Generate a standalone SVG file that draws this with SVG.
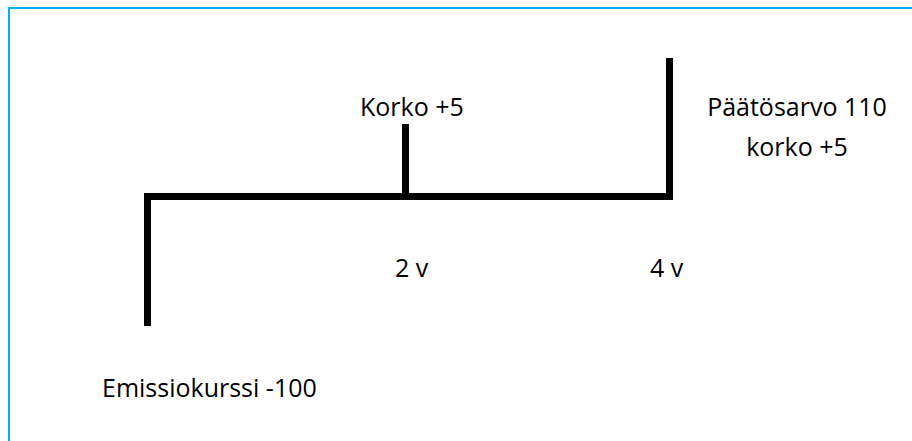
<svg xmlns="http://www.w3.org/2000/svg" width="912" height="441" viewBox="0 0 912 441">
<style>
.frame{stroke:#00B0F0;stroke-width:2;fill:none}
.ln{stroke:#000;stroke-width:7;fill:none;stroke-linecap:butt;stroke-linejoin:miter}
.t{font-family:"Open Sans","Liberation Sans",sans-serif;font-size:25px;fill:#000}
</style>
<rect width="912" height="441" fill="#fff"/>
<path class="frame" d="M9,441 V8 H912"/>
<g id="connectors">
<path class="ln" d="M147.5,326 V196.5 H669.5 V58"/>
<path class="ln" d="M405.5,124 V196"/>
</g>
<g id="korko2"><text class="t" x="360" y="116">Korko +5</text></g>
<g id="paatos"><text class="t" x="797" y="116" text-anchor="middle">Päätösarvo 110</text><text class="t" x="797" y="156" text-anchor="middle">korko +5</text></g>
<g id="v2"><text class="t" x="395" y="277">2 v</text></g>
<g id="v4"><text class="t" x="650" y="277">4 v</text></g>
<g id="emissio"><text class="t" x="102" y="397">Emissiokurssi -100</text></g>
</svg>
